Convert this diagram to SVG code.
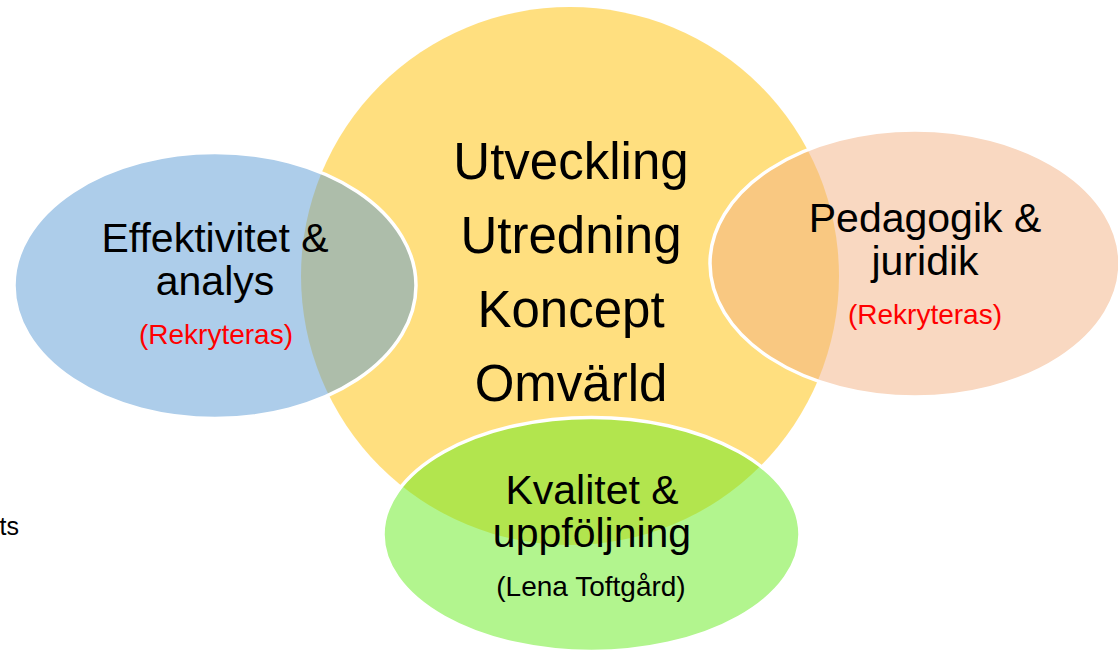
<svg xmlns="http://www.w3.org/2000/svg" width="1118" height="651" viewBox="0 0 1118 651">
  <style>
    .t { font-family: "Liberation Sans", Arial, sans-serif; text-anchor: middle; fill: #000; }
    .big { font-size: 51px; }
    .mid { font-size: 41px; }
    .small { font-size: 28px; }
    .red { fill: #FF0000; }
    .outline { stroke: #FFFFFF; stroke-width: 3.5; }
  </style>
  <rect width="1118" height="651" fill="#FFFFFF"/>
  <g id="connectors"></g>
  <g id="node-center">
    <circle cx="570" cy="276" r="269" fill="#FFC000" fill-opacity="0.5"/>
    <text class="t big" x="571" y="179">Utveckling</text>
    <text class="t big" x="571" y="253">Utredning</text>
    <text class="t big" x="571" y="327">Koncept</text>
    <text class="t big" x="571" y="401">Omvärld</text>
  </g>
  <g id="node-effektivitet">
    <ellipse class="outline" cx="215" cy="285.5" rx="201" ry="133" fill="#5B9BD5" fill-opacity="0.5"/>
    <text class="t mid" x="215" y="252">Effektivitet &amp;</text>
    <text class="t mid" x="215" y="295">analys</text>
    <text class="t small red" x="216" y="344">(Rekryteras)</text>
  </g>
  <g id="node-pedagogik">
    <ellipse class="outline" cx="915" cy="263.5" rx="205" ry="133.5" fill="#F4B183" fill-opacity="0.5"/>
    <text class="t mid" x="925" y="232">Pedagogik &amp;</text>
    <text class="t mid" x="925" y="275">juridik</text>
    <text class="t small red" x="925" y="324">(Rekryteras)</text>
  </g>
  <g id="node-kvalitet">
    <ellipse class="outline" cx="591.5" cy="534.5" rx="208.5" ry="117" fill="#65EB1D" fill-opacity="0.5"/>
    <text class="t mid" x="592" y="504">Kvalitet &amp;</text>
    <text class="t mid" x="592" y="547">uppföljning</text>
    <text class="t small" x="591" y="596">(Lena Toftgård)</text>
  </g>
  <text x="19" y="535" style="font-family: 'Liberation Sans', Arial, sans-serif; font-size: 25px; text-anchor: end; fill: #000;">ts</text>
</svg>
